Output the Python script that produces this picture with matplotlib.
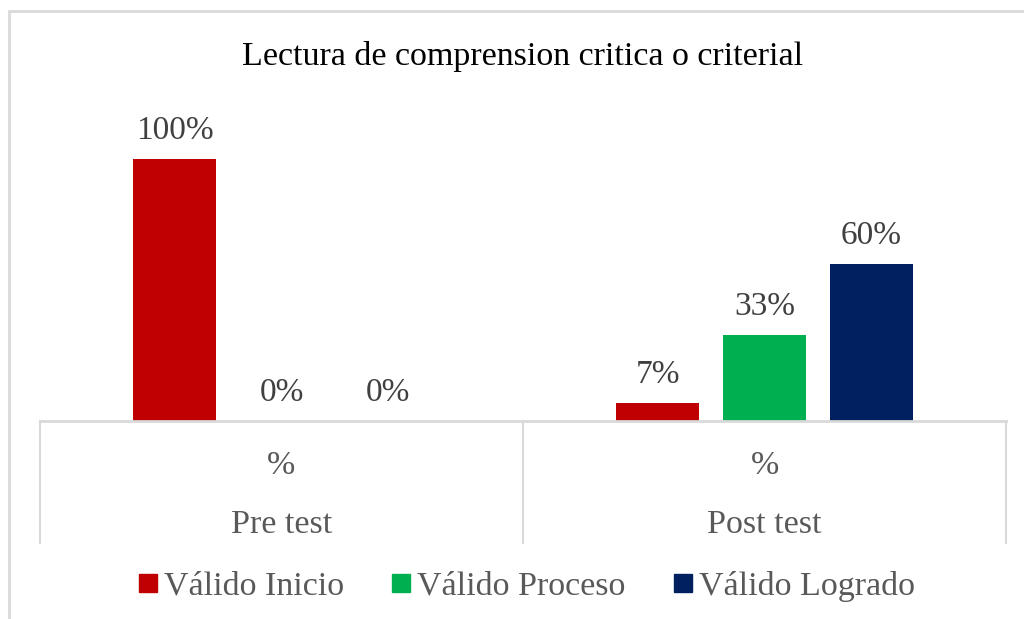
import numpy as np
import matplotlib
matplotlib.use("Agg")
import matplotlib.pyplot as plt
from matplotlib.lines import Line2D
from matplotlib.patches import Rectangle

# datos del grafico
grupos = ["Pre test", "Post test"]
subetiqueta = "%"
series = ["Válido Inicio", "Válido Proceso", "Válido Logrado"]
inicio = [1.00, 0.07]
proceso = [0.00, 0.33]
logrado = [0.00, 0.60]
colores = ["#C00000", "#00B050", "#002060"]

plt.rcParams["font.family"] = ["Liberation Serif", "DejaVu Serif"]

fig = plt.figure(figsize=(10.24, 6.19), dpi=100)
ax = fig.add_axes([40 / 1024, 1 - 421 / 619, 966 / 1024, 326 / 619])

x = np.arange(len(grupos))
paso = 0.2213
ancho = 0.172
valores = [inicio, proceso, logrado]
for i, (vals, col) in enumerate(zip(valores, colores)):
    pos = x + (i - 1) * paso
    ax.bar(pos, vals, width=ancho, color=col, zorder=2)
    for px, v in zip(pos, vals):
        ax.annotate(f"{v * 100:.0f}%", (px, v), xytext=(0, 20), textcoords="offset points",
                    ha="center", va="center", fontsize=24, color="#404040")

ax.set_xlim(-0.5, 1.5)
ax.set_ylim(0, 1.244)
ax.set_yticks([])
ax.set_xticks([])
for s in ["top", "right", "left"]:
    ax.spines[s].set_visible(False)
ax.spines["bottom"].set_color("#d9d9d9")
ax.spines["bottom"].set_linewidth(2)

# ejes de categorias en dos niveles
tr = ax.get_xaxis_transform()
for xs in [-0.5, 0.5, 1.5]:
    ax.plot([xs, xs], [0, -0.374], transform=tr, color="#d9d9d9", lw=1.5, clip_on=False)
for xc, g in zip(x, grupos):
    ax.text(xc, -0.138, subetiqueta, transform=tr, ha="center", va="center",
            fontsize=24.5, color="#595959")
    ax.text(xc, -0.318, g, transform=tr, ha="center", va="center",
            fontsize=24.5, color="#595959")

fig.text(523 / 1024, 1 - 57 / 619, "Lectura de comprension critica o criterial",
         ha="center", va="center", fontsize=24.5, color="black")

handles = [Line2D([], [], marker="s", ls="", markersize=12.6, color=c) for c in colores]
fig.legend(handles, series, loc="center", bbox_to_anchor=(525 / 1024, 1 - 586 / 619),
           ncol=3, frameon=False, fontsize=24.5, handletextpad=0.1, columnspacing=1.3,
           handlelength=0.75, labelcolor="#595959")

fig.add_artist(Rectangle((9 / 1024, -0.1), 1.2, 0.1 + 1 - 11 / 619, transform=fig.transFigure,
                         fill=False, edgecolor="#d9d9d9", lw=2))

fig.savefig("out.png", dpi=100)
